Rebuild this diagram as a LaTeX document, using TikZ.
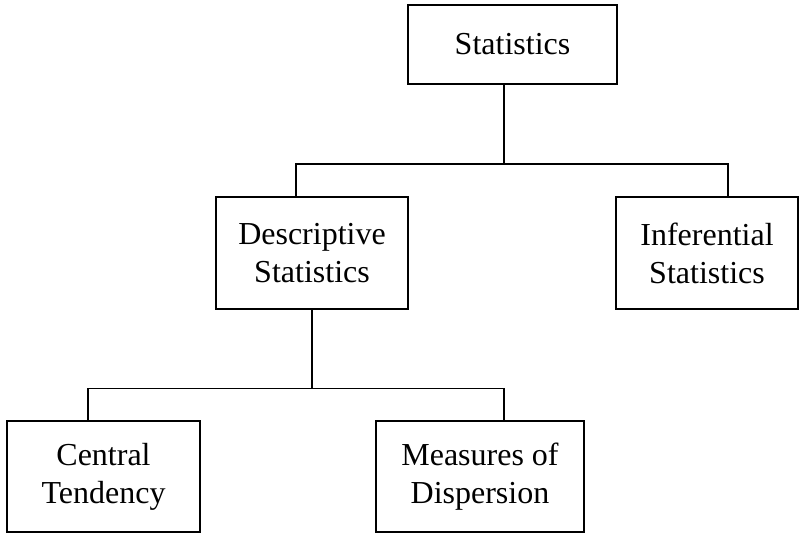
\documentclass[tikz,border=0pt]{standalone}
\usepackage{fontspec}
\setmainfont{Liberation Serif}
\usepackage{xcolor}

\begin{document}
\begin{tikzpicture}[x=1pt,y=-1pt]
\tikzset{every node/.style={font=\fontsize{32}{38}\selectfont}}
\tikzset{catbox/.style={draw,line width=1.6pt,align=center,inner sep=0pt}}
\tikzset{link/.style={line width=1.6pt}}

\useasboundingbox (0,0) rectangle (800,534);

\node[catbox,minimum width=209pt,minimum height=79pt] (stat) at (512.5,44.5) {Statistics};
\node[catbox,minimum width=192pt,minimum height=112pt] (desc) at (312,253) {Descriptive\\Statistics};
\node[catbox,minimum width=182pt,minimum height=112pt] (infer) at (707,253) {Inferential\\Statistics};
\node[catbox,minimum width=193pt,minimum height=111pt] (cent) at (103.5,476.5) {Central\\Tendency};
\node[catbox,minimum width=208pt,minimum height=111pt] (meas) at (480,476.5) {Measures of\\Dispersion};

\coordinate (statjoin) at (504,164);
\coordinate (descdrop) at (296,164);
\coordinate (inferdrop) at (728,164);
\coordinate (descjoin) at (312,388.5);
\coordinate (centdrop) at (88,388.5);
\coordinate (measdrop) at (504,388.5);

\draw[link] (statjoin |- stat.south) -- (statjoin);
\draw[link] (descdrop |- desc.north) -- (descdrop) -- (inferdrop) -- (inferdrop |- infer.north);
\draw[link] (desc.south) -- (descjoin);
\draw[link] (centdrop |- cent.north) -- (centdrop) -- (measdrop) -- (measdrop |- meas.north);

\end{tikzpicture}
\end{document}
